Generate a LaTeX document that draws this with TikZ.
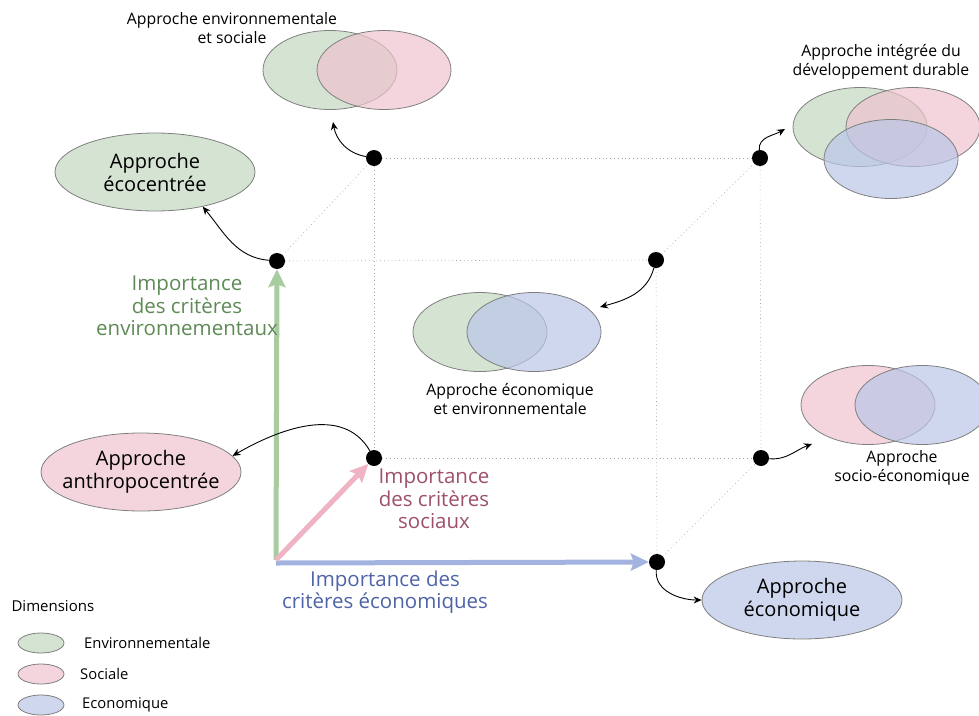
\documentclass[tikz,border=0pt]{standalone}
\usepackage{fontspec}
\setmainfont{Open Sans}
\usepackage{tikz}
\usetikzlibrary{positioning,calc,shapes,arrows.meta}
\definecolor{EnvFill}{HTML}{D5E3D3}
\definecolor{SocFill}{HTML}{F4D5DD}
\definecolor{EcoFill}{HTML}{CFD7EE}
\definecolor{EnvVenn}{HTML}{C3D7C0}
\definecolor{SocVenn}{HTML}{EFC3CE}
\definecolor{EcoVenn}{HTML}{BAC6E7}
\definecolor{EnvAxis}{HTML}{A8CBA0}
\definecolor{SocAxis}{HTML}{EFB3C3}
\definecolor{EcoAxis}{HTML}{A3B3E0}
\definecolor{EnvText}{HTML}{5E8A56}
\definecolor{SocText}{HTML}{9E5068}
\definecolor{EcoText}{HTML}{4E63A8}
\definecolor{VennLine}{HTML}{7F7F7F}

\begin{document}
\begin{tikzpicture}[x=1pt,y=-1pt,
    dot/.style={circle,fill=black,minimum size=16pt,inner sep=0pt},
    grid/.style={gray!70,line width=0.6pt,dash pattern=on 0.8pt off 3pt},
    axe/.style={line width=5pt,-{Stealth[length=18pt,width=17pt,inset=3pt]}},
    link/.style={line width=0.9pt,-{Stealth[length=8pt,width=7pt]}},
    venn/.style={ellipse,draw=VennLine,line width=0.8pt,fill opacity=.7,minimum width=134pt,minimum height=79pt,inner sep=0pt},
    single/.style={ellipse,draw=VennLine,line width=0.8pt,minimum width=200pt,minimum height=78pt,inner ysep=0pt,inner xsep=-20pt,
      align=center,font=\fontsize{20}{23}\selectfont},
    small/.style={align=center,font=\fontsize{15.8}{18.5}\selectfont},
    axislabel/.style={align=center,font=\fontsize{20.5}{22.5}\selectfont},
    legend/.style={ellipse,draw=VennLine,line width=0.8pt,minimum width=46pt,minimum height=20pt,inner sep=0pt}]
  \useasboundingbox (0,0) rectangle (979,715);

  % corners of the cube
  \coordinate (o) at (276,560);
  \node[dot] (e) at (277,261) {};
  \node[dot] (s) at (374,458) {};
  \node[dot] (ec) at (657,562) {};
  \node[dot] (es) at (374,158) {};
  \node[dot] (eec) at (656,260) {};
  \node[dot] (sec) at (761,458) {};
  \node[dot] (all) at (760,158) {};

  % dotted edges
  \draw[grid] (e) -- (eec);
  \draw[grid] (e) -- (es);
  \draw[grid] (es) -- (all);
  \draw[grid] (es) -- (s);
  \draw[grid] (s) -- (sec);
  \draw[grid] (all) -- (sec);
  \draw[grid] (eec) -- (all);
  \draw[grid] (eec) -- (ec);
  \draw[grid] (ec) -- (sec);

  % axes
  \draw[axe,EcoAxis] (o) ++(0,3) -- (ec);
  \draw[axe,EnvAxis] (o) -- (e);
  \draw[axe,SocAxis] (o) -- (s);
  \node[axislabel,EnvText] (envlab) at (187,306) {Importance\\des critères\\environnementaux};
  \node[axislabel,SocText] (soclab) at (434,499) {Importance\\des critères\\sociaux};
  \node[axislabel,EcoText] (ecolab) at (385,592) {Importance des\\critères économiques};

  % single approaches
  \node[single,fill=EnvFill] (ecocentre) at (155,172) {Approche\\écocentrée};
  \node[single,fill=SocFill] (anthro) at (141,472) {Approche\\anthropocentrée};
  \node[single,fill=EcoFill] (econ) at (802,600) {Approche\\économique};

  % environnementale et sociale
  \node[venn,fill=EnvVenn] (es-env) at (330,70) {};
  \node[venn,fill=SocVenn] (es-soc) at (384,70) {};
  \node[small] (es-lab) at (232,28) {Approche environnementale\\et sociale};

  % economique et environnementale
  \node[venn,fill=EnvVenn] (ee-env) at (480,332) {};
  \node[venn,fill=EcoVenn] (ee-eco) at (534,332) {};
  \node[small] (ee-lab) at (510,399) {Approche économique\\et environnementale};

  % socio-economique
  \node[venn,fill=SocVenn] (se-soc) at (868,405) {};
  \node[venn,fill=EcoVenn] (se-eco) at (922,405) {};
  \node[small] (se-lab) at (902,468) {Approche\\socio-économique};

  % integree
  \node[venn,fill=EnvVenn] (in-env) at (860,127) {};
  \node[venn,fill=SocVenn] (in-soc) at (913,127) {};
  \node[venn,fill=EcoVenn] (in-eco) at (891,159) {};
  \node[small] (in-lab) at (881,62) {Approche intégrée du\\développement durable};

  % arrow ends
  \coordinate (es-in) at (333,122);
  \coordinate (ee-in) at (600,307);
  \coordinate (in-in) at (785,129);
  \coordinate (se-in) at (812,444);

  \draw[link] (e) to[out=175,in=-50] (ecocentre.-36);
  \draw[link] (es) to[out=170,in=-80] (es-in);
  \draw[link] (eec) to[out=-105,in=15] (ee-in);
  \draw[link] (all) to[out=95,in=210] (in-in);
  \draw[link] (sec) to[out=-5,in=200] (se-in);
  \draw[link] (ec) to[out=-95,in=180] (econ.west);
  \draw[link] (s) to[out=120,in=30] (anthro.10);

  % legend
  \node[anchor=west,font=\fontsize{15}{16}\selectfont] (dimlab) at (8,606) {Dimensions};
  \node[legend,fill=EnvFill] (leg-env) at (41,643) {};
  \node[legend,fill=SocFill] (leg-soc) at (41,674) {};
  \node[legend,fill=EcoFill] (leg-eco) at (41,705) {};
  \node[anchor=west,font=\fontsize{14.8}{16}\selectfont,inner sep=0pt] (leg-envlab) at (84,643) {Environnementale};
  \node[anchor=west,font=\fontsize{14.8}{16}\selectfont,inner sep=0pt] (leg-soclab) at (80,674) {Sociale};
  \node[anchor=west,font=\fontsize{14.8}{16}\selectfont,inner sep=0pt] (leg-ecolab) at (82,705) {Economique};
\end{tikzpicture}
\end{document}
